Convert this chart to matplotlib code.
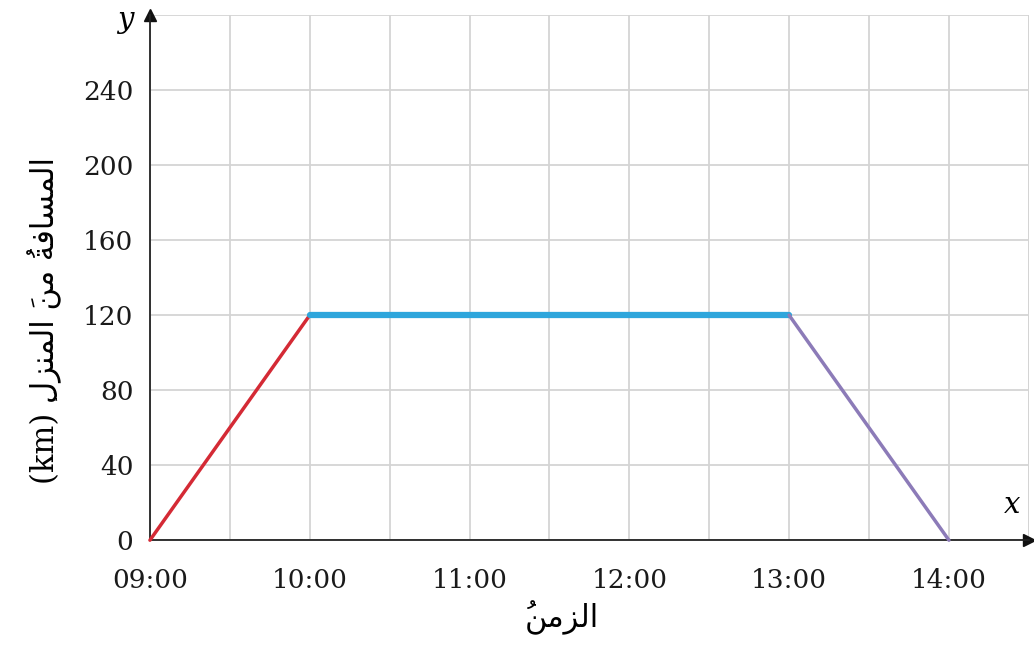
import numpy as np
import matplotlib
matplotlib.use("Agg")
import matplotlib.pyplot as plt
from matplotlib.ticker import MultipleLocator, FuncFormatter

# ------------------------------
# Data
# ------------------------------
hours = [9, 10, 13, 14]
distance_km = [0, 120, 120, 0]
segment_colors = ['#d42a35', '#2ea6dc', '#8c7bb8']
segment_widths = [2.5, 4.5, 2.5]
xtick_hours = [9, 10, 11, 12, 13, 14]
ytick_values = [0, 40, 80, 120, 160, 200, 240]
xlabel_text = 'الزمنُ'
ylabel_text = 'المسافةُ منَ المنزلِ (km)'

# ------------------------------
# Minimal Arabic shaping (matplotlib has none)
# ------------------------------
# letter: (isolated, final, initial, medial); None -> right-joining only
forms = {
    'ا': ('\uFE8D', '\uFE8E', None, None),
    'ل': ('\uFEDD', '\uFEDE', '\uFEDF', '\uFEE0'),
    'م': ('\uFEE1', '\uFEE2', '\uFEE3', '\uFEE4'),
    'س': ('\uFEB1', '\uFEB2', '\uFEB3', '\uFEB4'),
    'ف': ('\uFED1', '\uFED2', '\uFED3', '\uFED4'),
    'ة': ('\uFE93', '\uFE94', None, None),
    'ن': ('\uFEE5', '\uFEE6', '\uFEE7', '\uFEE8'),
    'ز': ('\uFEAF', '\uFEB0', None, None),
}
marks = '\u064E\u064F\u0650\u0651\u0652'


def shape_word(word):
    # split into clusters of base letter + marks
    clusters = []
    for ch in word:
        if ch in marks and clusters:
            clusters[-1][1] += ch
        else:
            clusters.append([ch, ''])
    out = []
    for i, (base, mk) in enumerate(clusters):
        if base not in forms:
            out.append(mk + base)
            continue
        prev = clusters[i - 1][0] if i > 0 else None
        nxt = clusters[i + 1][0] if i + 1 < len(clusters) else None
        join_prev = prev in forms and forms[prev][2] is not None
        join_next = nxt in forms and forms[base][2] is not None
        iso, fin, ini, med = forms[base]
        if join_prev and join_next:
            g = med
        elif join_prev:
            g = fin
        elif join_next:
            g = ini
        else:
            g = iso
        # zero-width mark goes before its base so it lands on it
        out.append(mk + g)
    # visual order: reverse clusters
    return ''.join(out[::-1])


def shape(text):
    words = text.split(' ')
    return ' '.join(shape_word(w) if any(c in forms for c in w) else w
                    for w in words[::-1])


# ------------------------------
# Figure
# ------------------------------
plt.rcParams['font.family'] = ['DejaVu Serif', 'DejaVu Sans']
fig = plt.figure(figsize=(10.34, 6.62), dpi=100)
ax = fig.add_axes([0.145, 0.184, 0.85, 0.793])

ax.set_xlim(9, 14.5)
ax.set_ylim(0, 280)
ax.xaxis.set_minor_locator(MultipleLocator(0.5))
ax.yaxis.set_major_locator(MultipleLocator(40))
ax.set_xticks(xtick_hours)
ax.set_yticks(ytick_values)
ax.xaxis.set_major_formatter(FuncFormatter(lambda v, p: '%02d:00' % v))
ax.grid(True, which='both', color='#d4d4d4', lw=1.3)
ax.set_axisbelow(True)
ax.tick_params(which='both', length=0, labelsize=19, colors='#1a1a1a')
ax.tick_params(axis='x', pad=20)
ax.tick_params(axis='y', pad=12)
for s in ['top', 'right']:
    ax.spines[s].set_visible(False)
for s in ['left', 'bottom']:
    ax.spines[s].set_color('#222222')
    ax.spines[s].set_linewidth(1.3)
# extra grid edges at the top/right
ax.axhline(280, color='#d4d4d4', lw=1.3, zorder=0.5)
ax.axvline(14.5, color='#d4d4d4', lw=1.3, zorder=0.5)

# arrows
ax.plot(1.0, 0, '>', color='#111111', ms=9, transform=ax.transAxes, clip_on=False)
ax.plot(0, 1.0, '^', color='#111111', ms=9, transform=ax.transAxes, clip_on=False)

for i in range(len(hours) - 1):
    ax.plot(hours[i:i + 2], distance_km[i:i + 2], color=segment_colors[i],
            lw=segment_widths[i], solid_capstyle='round', clip_on=False, zorder=3)

fig.text(1012 / 1034, 1 - 505 / 662, 'x', fontsize=21, style='italic', ha='center', va='center')
fig.text(125 / 1034, 1 - 20 / 662, 'y', fontsize=21, style='italic', ha='center', va='center')

fig.text(562 / 1034, 1 - 618 / 662, shape(xlabel_text), fontsize=22,
         family=['DejaVu Sans'], ha='center', va='center')
fig.text(45 / 1034, 1 - 320 / 662, shape(ylabel_text), fontsize=22, rotation=90,
         family=['DejaVu Serif', 'DejaVu Sans'], ha='center', va='center')

fig.savefig('out.png', dpi=100)
